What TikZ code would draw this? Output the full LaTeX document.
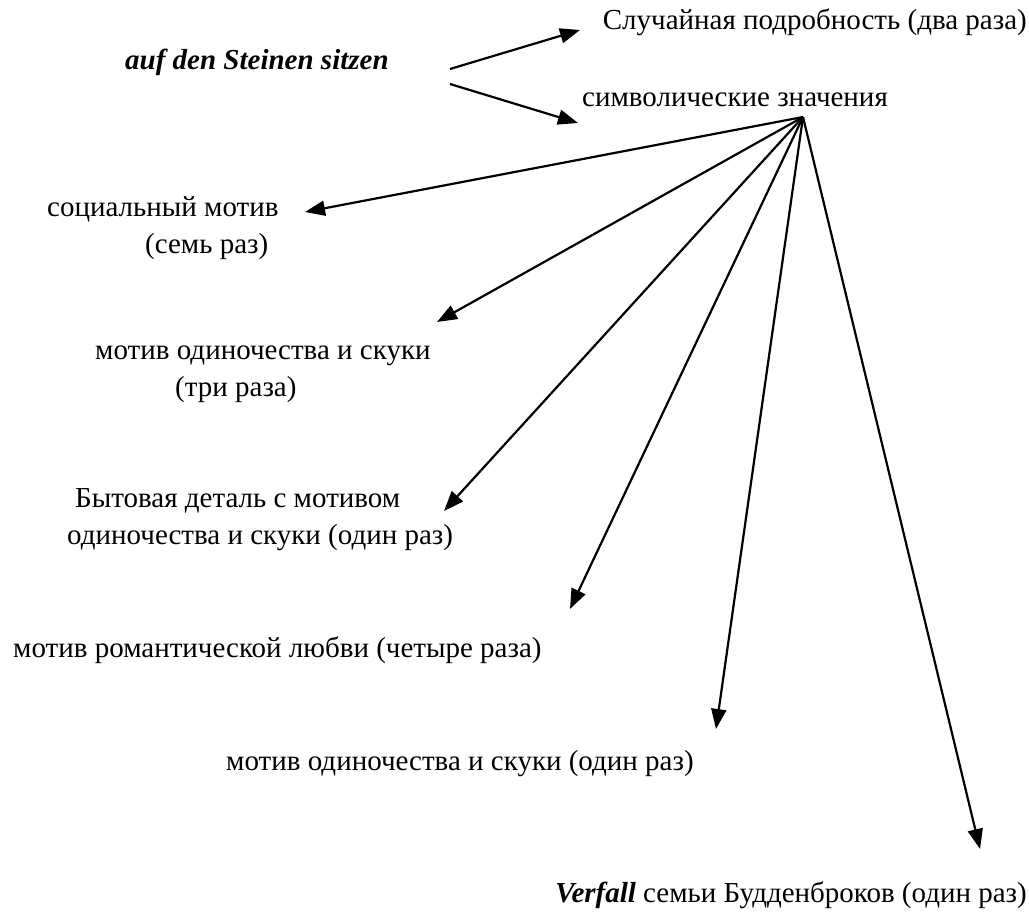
\documentclass[tikz,border=0pt]{standalone}
\usepackage{fontspec}
\setmainfont{Liberation Serif}
\usetikzlibrary{arrows.meta}
\tikzset{
  lbl/.style={inner sep=0pt, align=left, font=\fontsize{29}{37}\selectfont},
  arr/.style={line width=2.2pt, -{Triangle[length=20pt,width=15pt]}},
}
\begin{document}
\begin{tikzpicture}[x=1pt,y=-1pt]
\useasboundingbox (0,0) rectangle (1029,923);
\node[lbl, anchor=west, font=\fontsize{29}{37}\selectfont\bfseries\itshape] (src) at (125,62) {auf den Steinen sitzen};
\node[lbl, anchor=east] (rand) at (1027,22) {Случайная подробность (два раза)};
\node[lbl] (sym) at (735,100) {символические значения};
\node[lbl, anchor=west] (soc) at (47,228.5) {социальный мотив\\\hspace*{98pt}(семь раз)};
\node[lbl, anchor=west] (lon) at (95,374) {мотив одиночества и скуки\\\hspace*{80pt}(три раза)};
\node[lbl, anchor=west] (byt) at (67,519.5) {\hspace*{8pt}Бытовая деталь с мотивом\\одиночества и скуки (один раз)};
\node[lbl, anchor=west] (rom) at (13,650) {мотив романтической любви (четыре раза)};
\node[lbl, anchor=west] (lon2) at (226,764) {мотив одиночества и скуки (один раз)};
\node[lbl, anchor=east] (ver) at (1027,895) {\textbf{\textit{Verfall}} семьи Будденброков (один раз)};
\coordinate (s1) at (450,69);
\coordinate (s2) at (450,84);
\coordinate (t1) at (580,30);
\coordinate (t2) at (578,123);
\coordinate (hub) at (803,117);
\coordinate (e1) at (305,212);
\coordinate (e2) at (437,322);
\coordinate (e3) at (444,511);
\coordinate (e4) at (570,609);
\coordinate (e5) at (716,729);
\coordinate (e6) at (980,849);
\draw[arr] (s1) -- (t1);
\draw[arr] (s2) -- (t2);
\foreach \e in {e1,e2,e3,e4,e5,e6} \draw[arr] (hub) -- (\e);
\end{tikzpicture}
\end{document}
